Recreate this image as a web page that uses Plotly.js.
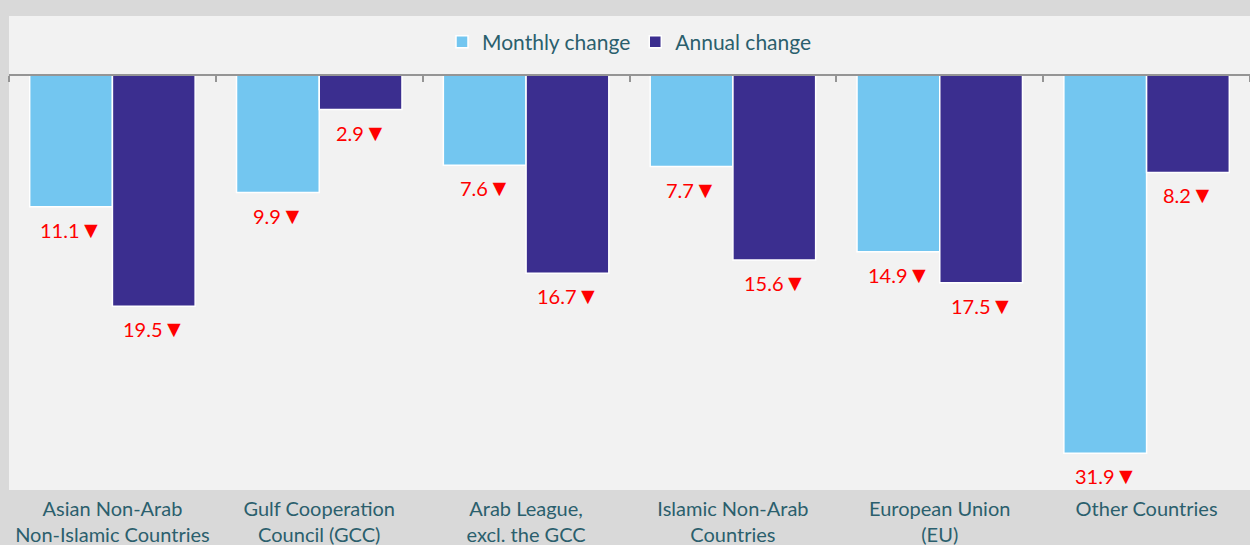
<!DOCTYPE html>
<html>
<head>
<meta charset="utf-8">
<script src="https://cdn.plot.ly/plotly-3.0.1.min.js"></script>
<style>html,body{margin:0;padding:0;background:#d9d9d9;}#chart{width:1250px;height:545px;}</style>
</head>
<body>
<div id="chart"></div>
<script>
const categories = [
  "Asian Non-Arab<br>Non-Islamic Countries",
  "Gulf Cooperation<br>Council (GCC)",
  "Arab League,<br>excl. the GCC",
  "Islamic Non-Arab<br>Countries",
  "European Union<br>(EU)",
  "Other Countries"
];
const monthlyChange = [-11.1, -9.9, -7.6, -7.7, -14.9, -31.9];
const annualChange = [-19.5, -2.9, -16.7, -15.6, -17.5, -8.2];
const seriesNames = ["Monthly change", "Annual change"];

const colors = ["#73c6f0", "#3b2e8f"];
const font = "Lato, 'Open Sans', sans-serif";
const textColor = "#2b5f6d";

const traces = [
  {type: "bar", name: seriesNames[0], x: categories, y: monthlyChange,
   marker: {color: colors[0], line: {color: "#ffffff", width: 1.5}}, hoverinfo: "none"},
  {type: "bar", name: seriesNames[1], x: categories, y: annualChange,
   marker: {color: colors[1], line: {color: "#ffffff", width: 1.5}}, hoverinfo: "none"},
  {type: "scatter", mode: "none", x: categories, y: categories.map(() => null),
   xaxis: "x2", yaxis: "y", showlegend: false, hoverinfo: "skip"}
];

const annotations = [];
[monthlyChange, annualChange].forEach((vals, si) => {
  vals.forEach((v, i) => {
    annotations.push({
      x: categories[i], y: v, xref: "x", yref: "y",
      xshift: si === 0 ? -41 : 42, yshift: -6,
      yanchor: "top", xanchor: "center", showarrow: false,
      text: Math.abs(v).toFixed(1) + "<span style='font-size:23px'>▼</span>",
      font: {family: font, size: 20, color: "#ff0000"}
    });
  });
});

const layout = {
  width: 1250, height: 545,
  margin: {l: 9, r: 0, t: 16, b: 55},
  paper_bgcolor: "#d9d9d9",
  plot_bgcolor: "#f2f2f2",
  barmode: "group",
  bargap: 0.2,
  bargroupgap: 0,
  showlegend: true,
  legend: {orientation: "h", x: 0.5, xanchor: "center", y: 0.945, yanchor: "middle",
           bgcolor: "rgba(0,0,0,0)", font: {family: font, size: 21, color: textColor}},
  xaxis: {type: "category", showline: false, ticks: "", showgrid: false, zeroline: false,
          ticklabelstandoff: 5,
          tickfont: {family: font, size: 20, color: textColor}, fixedrange: true},
  xaxis2: {type: "category", overlaying: "x", anchor: "free", position: 0.875, side: "bottom",
           showline: true, linecolor: "#959595", linewidth: 2,
           ticks: "outside", tickson: "boundaries", ticklen: 6, tickwidth: 2, tickcolor: "#959595",
           showticklabels: false, showgrid: false, zeroline: false, matches: "x"},
  yaxis: {range: [-35, 5], showgrid: false, zeroline: false, showticklabels: false,
          ticks: "", showline: false, fixedrange: true},
  annotations: annotations
};

Plotly.newPlot("chart", traces, layout, {displayModeBar: false, staticPlot: true});
</script>
</body>
</html>
